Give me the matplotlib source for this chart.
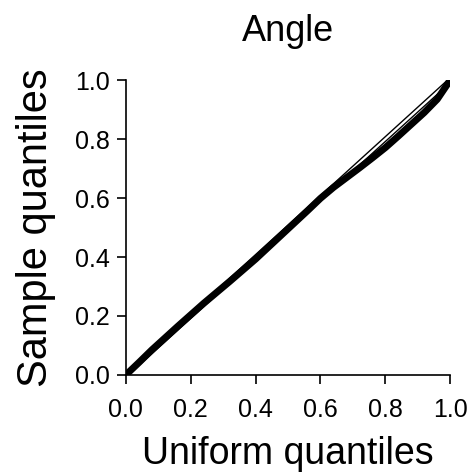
import matplotlib
matplotlib.use("Agg")
import matplotlib.pyplot as plt

# Cuantiles uniformes (eje x) y cuantiles de la muestra (eje y)
uniform_q = [0.0, 0.04, 0.08, 0.12, 0.16, 0.20, 0.24, 0.28, 0.32, 0.36,
             0.40, 0.44, 0.48, 0.52, 0.56, 0.60, 0.64, 0.68, 0.72, 0.76,
             0.80, 0.84, 0.88, 0.92, 0.96, 1.0]
sample_q = [0.0, 0.042, 0.085, 0.125, 0.165, 0.204, 0.243, 0.28, 0.317, 0.355,
            0.393, 0.434, 0.475, 0.516, 0.557, 0.599, 0.636, 0.669, 0.702, 0.736,
            0.771, 0.81, 0.85, 0.89, 0.935, 1.0]
ref_line = [0.0, 1.0]
ticks = [0.0, 0.2, 0.4, 0.6, 0.8, 1.0]
tick_labels = ["0.0", "0.2", "0.4", "0.6", "0.8", "1.0"]

plt.rcParams['font.family'] = ['Liberation Sans', 'DejaVu Sans']

fig = plt.figure(figsize=(4.68, 4.74), dpi=100)
ax = fig.add_axes([0.269, 0.209, 0.693, 0.622])

# linea de referencia y = x (hueca)
ax.plot(ref_line, ref_line, color="black", lw=3.6, solid_capstyle="butt", zorder=2)
ax.plot(ref_line, ref_line, color="white", lw=1.6, solid_capstyle="butt", zorder=3)
# puntos de la muestra
ax.plot(uniform_q, sample_q, color="black", lw=5, solid_capstyle="round", zorder=4)

ax.set_xlim(0, 1)
ax.set_ylim(0, 1)
ax.set_xticks(ticks)
ax.set_xticklabels(tick_labels)
ax.set_yticks(ticks)
ax.set_yticklabels(tick_labels)
ax.spines['top'].set_visible(False)
ax.spines['right'].set_visible(False)
for s in ['left', 'bottom']:
    ax.spines[s].set_linewidth(1.2)
ax.tick_params(direction="out", length=6.5, width=1.2, labelsize=18)
ax.tick_params(axis="y", pad=5)
ax.tick_params(axis="x", pad=10)

ax.set_title("Angle", fontsize=26, pad=28)
ax.set_xlabel("Uniform quantiles", fontsize=27, labelpad=10)
ax.set_ylabel("Sample quantiles", fontsize=30, labelpad=14)

fig.savefig("out.png", dpi=100)
